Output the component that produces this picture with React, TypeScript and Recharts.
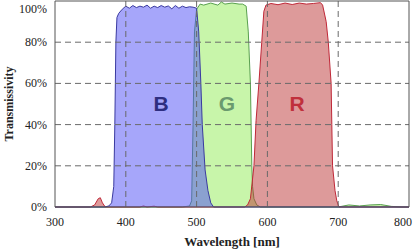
import {
  ComposedChart, Area, XAxis, YAxis, CartesianGrid, ReferenceLine, ReferenceDot, Label
} from 'recharts'

// wavelength [nm], transmissivity [%]
const blueNm = [300, 370, 376, 380, 383, 384.5, 386, 387.5, 390, 395, 400, 405, 410, 415, 420, 425, 430, 435, 440, 445, 450, 455, 460, 465, 470, 475, 480, 485, 490, 495, 500, 503, 506, 508, 512, 516, 520, 524, 800]
const blueT = [0, 0, 0.5, 2, 10, 40, 80, 92, 94, 96, 97.5, 96.5, 97.8, 96.8, 97.5, 97, 98, 96.5, 97.5, 96.8, 97.8, 97, 97.6, 96.2, 97.8, 96.5, 97.5, 96.8, 97.2, 97, 96.5, 85, 60, 40, 18, 8, 2, 0, 0]

const greenNm = [300, 480, 490, 493, 495, 497, 500, 505, 510, 520, 530, 535, 540, 550, 560, 565, 570, 573, 576, 578, 579, 581, 585, 590, 700, 715, 730, 745, 760, 775, 790, 800]
const greenT = [0, 0, 0.5, 3, 40, 85, 96, 98.5, 98, 99, 98, 99.5, 98.5, 99, 98.5, 98.5, 97.5, 85, 60, 20, 10, 4, 1, 0, 0, 1, 0.5, 1, 1.2, 0.3, 0, 0]

const redNm = [300, 350, 356, 361, 364, 367, 371, 420, 425, 430, 440, 445, 568, 572, 576, 581, 584, 588, 592, 595, 598, 605, 615, 625, 635, 645, 655, 665, 675, 678, 683, 686, 690, 691, 692, 695.5, 698, 701, 800]
const redT = [0, 0, 1, 4, 4.5, 2, 0, 0, 0.5, 0, 0.4, 0, 0, 1, 4, 20, 42, 60, 80, 95, 98, 98.8, 98.2, 99, 98.3, 99, 98.5, 98.8, 99.2, 98, 90, 80, 60, 40, 20, 8, 3, 0, 0]

const xTicks = [300, 400, 500, 600, 700, 800]
const yTicks = [0, 20, 40, 60, 80, 100]

const filters = [
  { name: 'G', nm: greenNm, t: greenT, fill: '#91eb55', stroke: '#5aa050', at: 543, text: '#6a9a6e' },
  { name: 'R', nm: redNm, t: redT, fill: '#bb3535', stroke: '#c02838', at: 642, text: '#c0303c' },
  { name: 'B', nm: blueNm, t: blueT, fill: '#4d4df5', stroke: '#3a3aa0', at: 450, text: '#2e2e80' },
]

const serif = '"Liberation Serif", "Times New Roman", serif'
const frame = '#555'
const dash = '#6a6a6a'

function XTick({ x, y, payload }: { x?: number; y?: number; payload?: { value: number } }) {
  if (!payload) return null
  return (
    <text x={x} y={y} dy={11} textAnchor="middle" fill="#222" fontSize={12} fontFamily={serif}>
      {payload.value}
    </text>
  )
}

function YTick({ x, y, payload }: { x?: number; y?: number; payload?: { value: number } }) {
  if (!payload) return null
  return (
    <text x={x} y={y} dy={4} textAnchor="end" fill="#222" fontSize={12} fontFamily={serif}>
      {payload.value}%
    </text>
  )
}

export default function App() {
  return (
    <div style={{ position: 'absolute', left: 0, top: 0, fontFamily: serif }}>
      <ComposedChart width={415} height={250} margin={{ top: 1, right: 6, left: 0, bottom: 0 }}>
        <XAxis
          type="number"
          dataKey="nm"
          domain={[300, 800]}
          ticks={xTicks}
          allowDuplicatedCategory={false}
          tickLine={false}
          axisLine={{ stroke: frame }}
          height={43}
          tick={<XTick />}
        >
          <Label
            value="Wavelength [nm]"
            position="insideBottom"
            offset={4}
            style={{ fontSize: 13, fontWeight: 'bold', fill: '#222', fontFamily: serif }}
          />
        </XAxis>
        <YAxis
          type="number"
          domain={[0, 100]}
          ticks={yTicks}
          width={55}
          tickLine={false}
          axisLine={{ stroke: frame }}
          tick={<YTick />}
        >
          <Label
            value="Transmissivity"
            angle={-90}
            position="insideLeft"
            offset={9}
            style={{ fontSize: 12, fontWeight: 'bold', fill: '#222', fontFamily: serif, textAnchor: 'middle' }}
          />
        </YAxis>
        <CartesianGrid stroke="none" />
        {filters.map((f) => (
          <Area
            key={f.name}
            type="linear"
            data={f.nm.map((nm, i) => ({ nm, t: f.t[i] }))}
            dataKey="t"
            fill={f.fill}
            fillOpacity={0.5}
            stroke={f.stroke}
            strokeWidth={1}
            isAnimationActive={false}
            dot={false}
            activeDot={false}
          />
        ))}
        {xTicks.slice(1, -1).map((x) => (
          <ReferenceLine key={'x' + x} x={x} stroke={dash} strokeDasharray="6 4" />
        ))}
        {yTicks.slice(1, -1).map((y) => (
          <ReferenceLine key={'y' + y} y={y} stroke={dash} strokeDasharray="6 4" />
        ))}
        <ReferenceLine y={100} stroke={frame} />
        <ReferenceLine x={800} stroke={frame} />
        {filters.map((f) => (
          <ReferenceDot
            key={'l' + f.name}
            x={f.at}
            y={50}
            r={0}
            fill="none"
            stroke="none"
            label={{
              value: f.name,
              position: 'center',
              style: { fontSize: 21, fontWeight: 'bold', fill: f.text, fontFamily: 'Liberation Sans, Arial, sans-serif' },
            }}
          />
        ))}
      </ComposedChart>
    </div>
  )
}
